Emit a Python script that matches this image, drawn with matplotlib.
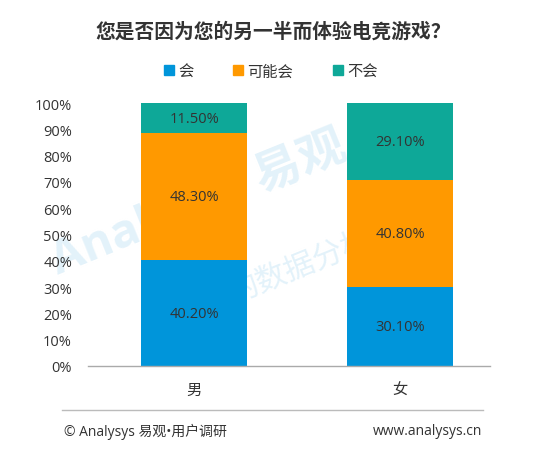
import matplotlib
matplotlib.use("Agg")
import matplotlib.pyplot as plt
from matplotlib.lines import Line2D

plt.rcParams['font.family'] = ['Open Sans', 'Noto Sans CJK SC', 'DejaVu Sans']

categories = ['男', '女']
series_names = ['会', '可能会', '不会']
values_hui = [40.2, 30.1]
values_keneng = [48.3, 40.8]
values_buhui = [11.5, 29.1]
yticks = [0, 10, 20, 30, 40, 50, 60, 70, 80, 90, 100]
colors = ['#0095DA', '#FF9900', '#0EA898']

fig = plt.figure(figsize=(5.36, 4.52), dpi=100)
ax = fig.add_axes([88/536, 85/452, 402/536, 263/452])

# faint watermark behind bars
ax.text(0.37, 0.55, 'Analysys 易观', fontsize=34, color='#E3F2FA',
        rotation=22, ha='center', va='center', fontweight='bold', zorder=0,
        transform=fig.transFigure)
ax.text(0.56, 0.41, '的数据分析', fontsize=22, color='#E3F2FA',
        rotation=22, ha='center', va='center', zorder=0,
        transform=fig.transFigure)

x = list(range(len(categories)))
series = [values_hui, values_keneng, values_buhui]
bottom = [0.0] * len(categories)
for vals, col in zip(series, colors):
    ax.bar(x, vals, width=0.515, bottom=bottom, color=col, linewidth=0, zorder=2)
    for xi, v, b in zip(x, vals, bottom):
        ax.text(xi, b + v / 2, f'{v:.2f}%', ha='center', va='center',
                fontsize=10.5, color='#333333', zorder=3)
    bottom = [b + v for b, v in zip(bottom, vals)]

ax.set_xlim(-0.515, 1.437)
ax.set_ylim(0, 100)
ax.set_yticks(yticks)
ax.set_yticklabels([f'{t}%' for t in yticks], fontsize=10.5, color='#333333')
ax.set_xticks(x)
ax.set_xticklabels(categories, fontsize=11, color='#333333')
ax.tick_params(axis='both', length=0)
ax.tick_params(axis='y', pad=11.5)
ax.tick_params(axis='x', pad=12)
for s in ['top', 'right', 'left']:
    ax.spines[s].set_visible(False)
ax.spines['bottom'].set_color('#AAAAAA')
ax.spines['bottom'].set_linewidth(1)
ax.spines['bottom'].set_zorder(4)

fig.text(0.51, 1 - 33/452, '您是否因为您的另一半而体验电竞游戏？', ha='center', va='center',
         fontsize=14.2, fontweight='bold', color='#333333')

handles = [Line2D([0], [0], marker='s', linestyle='none', markersize=7,
                  markerfacecolor=c, markeredgecolor=c) for c in colors]
fig.legend(handles, series_names, loc='center', bbox_to_anchor=(0.503, 1 - 73/452),
           ncol=3, frameon=False, fontsize=11, handletextpad=0.1,
           columnspacing=2.45, handlelength=1.0, labelcolor='#333333')

fig.add_artist(Line2D([62/536, 483/536], [1 - 411/452, 1 - 411/452],
                      color='#BBBBBB', linewidth=1))
fig.text(64/536, 1 - 432/452, '© Analysys 易观•用户调研', ha='left', va='center',
         fontsize=10, color='#333333')
fig.text(482/536, 1 - 432/452, 'www.analysys.cn', ha='right', va='center',
         fontsize=10, color='#333333')

fig.savefig('out.png', dpi=100)
